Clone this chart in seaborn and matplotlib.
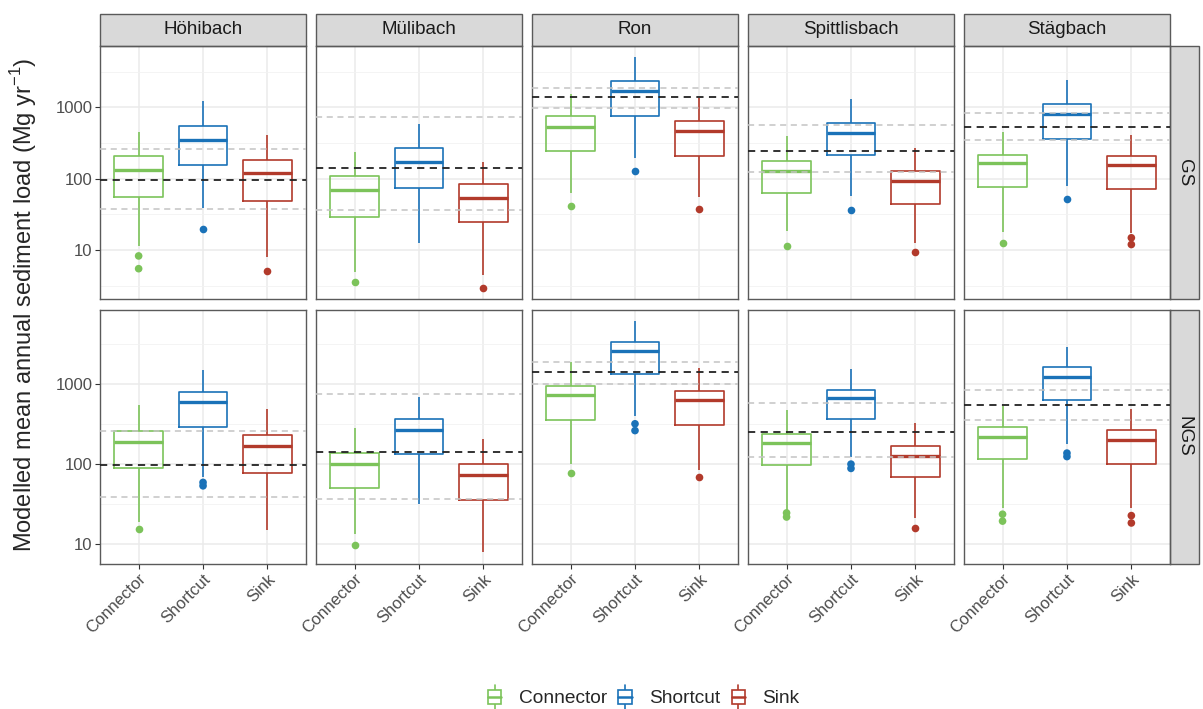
import numpy as np
import pandas as pd
import seaborn as sns
import matplotlib.pyplot as plt
from matplotlib.patches import Rectangle
from matplotlib.lines import Line2D
from matplotlib.legend_handler import HandlerBase
from matplotlib.ticker import FixedLocator, NullFormatter

catchments = ["Höhibach", "Mülibach", "Ron", "Spittlisbach", "Stägbach"]
scenarios = ["GS", "NGS"]
types = ["Connector", "Shortcut", "Sink"]
colors = ["#7cc35a", "#1a72b8", "#b23a2b"]

# five numbers per box: lower whisker, Q1, median, Q3, upper whisker
gs_boxes = {
    "Höhibach":     [[11.5, 56.5, 134, 206, 460], [38.8, 154, 352, 542, 1250], [8.0, 49, 122, 183, 410]],
    "Mülibach":     [[5.0, 29.6, 70, 110, 237], [12.5, 75.5, 173, 272, 585], [4.5, 24.7, 54.7, 84, 171]],
    "Ron":          [[63, 244, 531, 748, 1540], [197, 757, 1700, 2370, 5090], [56.5, 212, 467, 644, 1338]],
    "Spittlisbach": [[18.7, 64, 128, 179, 393], [57, 219, 442, 597, 1310], [12.4, 45, 93, 128, 266]],
    "Stägbach":     [[18, 77, 166, 219, 456], [80, 360, 798, 1127, 2440], [17.3, 72, 154, 206, 414]],
}
ngs_boxes = {
    "Höhibach":     [[18.9, 87.5, 189, 260, 536], [68.7, 292, 585, 795, 1470], [14.7, 75.7, 167, 230, 482]],
    "Mülibach":     [[13.4, 49.6, 99, 136, 281], [31.5, 132, 265, 361, 681], [7.9, 35.7, 71.5, 100, 204]],
    "Ron":          [[99, 357, 715, 937, 1857], [390, 1312, 2573, 3310, 6070], [84, 303, 625, 818, 1593]],
    "Spittlisbach": [[25.8, 95.5, 180, 236, 472], [120, 364, 656, 843, 1530], [21.2, 67.5, 125, 169, 321]],
    "Stägbach":     [[28.3, 114.5, 216, 292, 531], [177, 631, 1204, 1622, 2890], [27.8, 99, 197, 265, 487]],
}
gs_outliers = {
    "Höhibach":     [[8.3, 5.5], [19.7], [5.1]],
    "Mülibach":     [[3.6], [], [2.96]],
    "Ron":          [[41.8], [128], [38]],
    "Spittlisbach": [[11.5], [36.7], [9.5]],
    "Stägbach":     [[12.4], [52], [14.9, 12.0]],
}
ngs_outliers = {
    "Höhibach":     [[15.5], [58.5, 53], []],
    "Mülibach":     [[9.7], [], []],
    "Ron":          [[77], [316, 260], [68.7]],
    "Spittlisbach": [[24.3, 21.6], [99, 87.5], [15.7]],
    "Stägbach":     [[23.4, 19.2], [136, 123], [22.5, 18.2]],
}

# observed load (black dashed) and its range (grey dashed)
obs_load = [96, 141, 1385, 248, 538]
obs_low = [38, 36, 985, 123, 355]
obs_high = [260, 745, 1880, 575, 840]

box_rows, out_rows = [], []
for scen, boxes, outs in zip(scenarios, [gs_boxes, ngs_boxes], [gs_outliers, ngs_outliers]):
    for c in catchments:
        for t, vals, ovals in zip(types, boxes[c], outs[c]):
            box_rows += [(scen, c, t, v) for v in vals]
            out_rows += [(scen, c, t, v) for v in ovals]
box_df = pd.DataFrame(box_rows, columns=["scenario", "catchment", "type", "value"])
out_df = pd.DataFrame(out_rows, columns=["scenario", "catchment", "type", "value"])


class BoxKey(HandlerBase):
    # ggplot-like boxplot legend key: box, median and whiskers
    def create_artists(self, legend, orig_handle, xd, yd, width, height, fontsize, trans):
        col = orig_handle.get_color()
        x0, yb = -xd, -yd
        cx = x0 + width / 2
        y0, y1 = yb + height * 0.15, yb + height * 0.85
        box = Rectangle((x0, y0), width, y1 - y0, fc="white", ec=col, lw=1.2, transform=trans)
        med = Line2D([x0, x0 + width], [yb + height / 2] * 2, color=col, lw=1.8, transform=trans)
        w1 = Line2D([cx, cx], [yb - height * 0.1, y0], color=col, lw=1.2, transform=trans)
        w2 = Line2D([cx, cx], [y1, yb + height * 1.1], color=col, lw=1.2, transform=trans)
        return [w1, w2, box, med]


sns.set_style("white")
plt.rcParams["font.family"] = ["Liberation Sans", "DejaVu Sans"]
plt.rcParams["mathtext.fontset"] = "custom"
plt.rcParams["mathtext.rm"] = "Liberation Sans"

fig, axes = plt.subplots(2, 5, figsize=(12.03, 7.09), dpi=100)
fig.subplots_adjust(left=100 / 1203, right=1170 / 1203, top=1 - 45.5 / 709,
                    bottom=1 - 563.5 / 709, wspace=0.048, hspace=0.04)

edge = "#5a5a5a"
for i, scen in enumerate(scenarios):
    allv = np.log10(pd.concat([box_df[box_df.scenario == scen].value,
                               out_df[out_df.scenario == scen].value]))
    span = allv.max() - allv.min()
    ylim = (10 ** (allv.min() - 0.05 * span), 10 ** (allv.max() + 0.05 * span))
    for j, c in enumerate(catchments):
        ax = axes[i, j]
        ax.set_yscale("log")
        sub = box_df[(box_df.scenario == scen) & (box_df.catchment == c)]
        osub = out_df[(out_df.scenario == scen) & (out_df.catchment == c)]
        sns.boxplot(data=sub, x="type", y="value", hue="type", order=types,
                    hue_order=types, palette=colors, fill=False, whis=(0, 100),
                    showfliers=False, showcaps=False, width=0.75, linewidth=1.2,
                    medianprops=dict(linewidth=2.4), legend=False, ax=ax)
        sns.stripplot(data=osub, x="type", y="value", hue="type", order=types,
                      hue_order=types, palette=colors, jitter=False, size=5.5,
                      linewidth=0, legend=False, ax=ax)
        ax.axhline(obs_high[j], color="#c4c4c4", ls=(0, (4, 3)), lw=1.1, zorder=4)
        ax.axhline(obs_low[j], color="#c4c4c4", ls=(0, (4, 3)), lw=1.1, zorder=4)
        ax.axhline(obs_load[j], color="#222222", ls=(0, (4, 3)), lw=1.3, zorder=4)

        ax.set_xlim(-0.6, 2.6)
        ax.set_ylim(*ylim)
        ax.yaxis.set_major_locator(FixedLocator([10, 100, 1000]))
        ax.set_yticklabels(["10", "100", "1000"])
        ax.yaxis.set_minor_locator(FixedLocator([10 ** (k + 0.5) for k in range(-1, 5)]))
        ax.yaxis.set_minor_formatter(NullFormatter())
        ax.set_axisbelow(True)
        ax.grid(which="major", color="#ebebeb", lw=1.1)
        ax.grid(which="minor", axis="y", color="#f2f2f2", lw=0.6)
        for s in ax.spines.values():
            s.set_color(edge)
            s.set_linewidth(1.0)
        ax.set_xlabel("")
        ax.set_ylabel("")
        ax.tick_params(which="major", color="#333333", length=3.5, width=0.8,
                       labelcolor="#4d4d4d", labelsize=12, pad=2)
        ax.tick_params(which="minor", length=0)
        ax.tick_params(axis="y", left=(j == 0), labelleft=(j == 0))
        ax.tick_params(axis="x", bottom=(i == 1), labelbottom=(i == 1))
        if i == 1:
            for lab in ax.get_xticklabels():
                lab.set_rotation(45)
                lab.set_ha("right")
                lab.set_rotation_mode("anchor")

        if i == 0:
            ax.add_patch(Rectangle((0, 1), 1, 0.125, transform=ax.transAxes, clip_on=False,
                                   fc="#d9d9d9", ec=edge, lw=1.0))
            ax.text(0.5, 1.0625, c, transform=ax.transAxes, ha="center", va="center",
                    fontsize=13.5, color="#1a1a1a")
        if j == len(catchments) - 1:
            ax.add_patch(Rectangle((1, 0), 0.14, 1, transform=ax.transAxes, clip_on=False,
                                   fc="#d9d9d9", ec=edge, lw=1.0))
            ax.text(1.07, 0.5, scen, transform=ax.transAxes, ha="center", va="center",
                    rotation=-90, fontsize=13.5, color="#1a1a1a")

fig.text(24 / 1203, 1 - 304.5 / 709, "Modelled mean annual sediment load (Mg yr$^{-1}$)",
         rotation=90, ha="center", va="center", fontsize=17)

handles = [Line2D([], [], color=col) for col in colors]
fig.legend(handles, types, loc="center", bbox_to_anchor=(0.535, 1 - 697 / 709), ncol=3,
           frameon=False, fontsize=13.8, handlelength=0.7, handleheight=1.25,
           columnspacing=0.6, handletextpad=0.9,
           handler_map={Line2D: BoxKey()})

fig.savefig("out.png", dpi=100)
